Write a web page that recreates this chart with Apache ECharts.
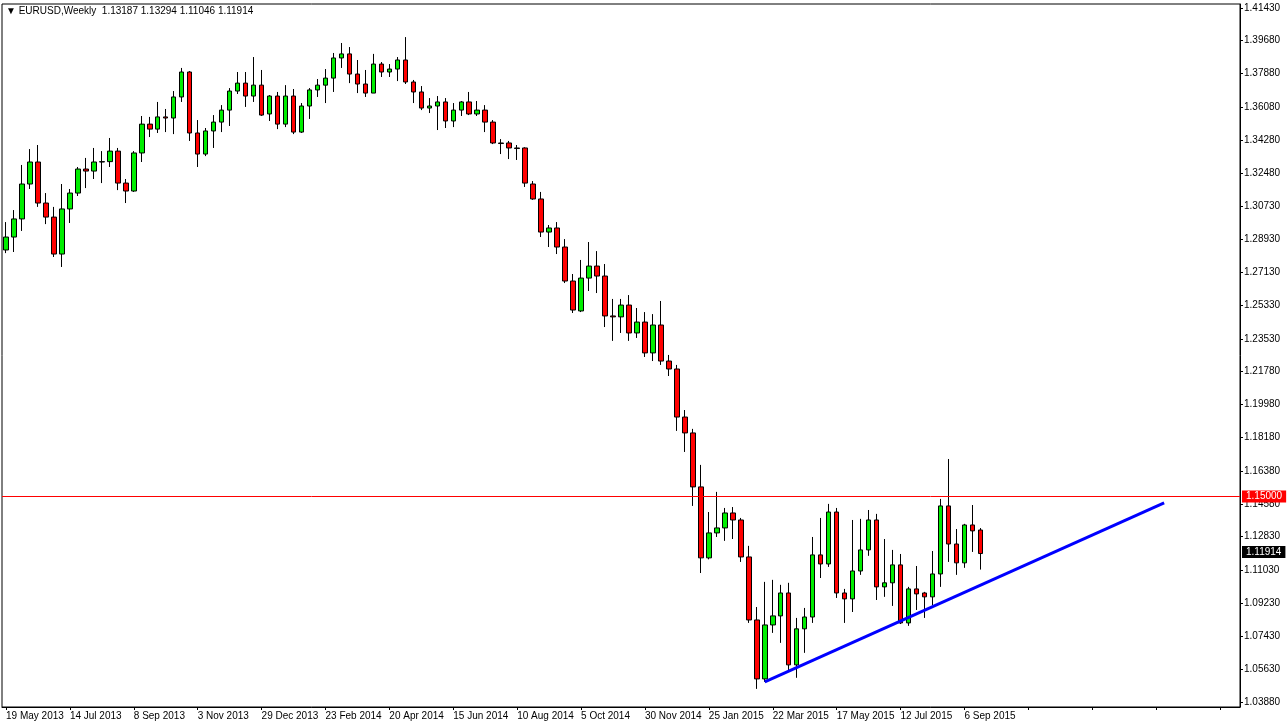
<!DOCTYPE html>
<html>
<head>
<meta charset="utf-8">
<script src="https://cdn.jsdelivr.net/npm/echarts@6/dist/echarts.min.js"></script>
<style>
html,body{margin:0;padding:0;background:#fff;}
#chart{width:1288px;height:726px;}
</style>
</head>
<body>
<div id="chart"></div>
<script>
// weekly EURUSD, first bar = week of 19 May 2013
var startDate = [2013, 4, 19];
var emptyWeeks = 32;

var opens = [1.2834,1.2904,1.3002,1.3191,1.3310,1.3088,1.3012,1.2812,1.3056,1.3142,
	1.3272,1.3261,1.3310,1.3312,1.3369,1.3196,1.3153,1.3359,1.3515,1.3488,
	1.3554,1.3548,1.3662,1.3797,1.3467,1.3353,1.3478,1.3526,1.3591,1.3694,
	1.3737,1.3667,1.3726,1.3570,1.3667,1.3515,1.3667,1.3472,1.3613,1.3700,
	1.3726,1.3764,1.3873,1.3895,1.3786,1.3732,1.3683,1.3840,1.3797,1.3813,
	1.3862,1.3743,1.3689,1.3602,1.3613,1.3635,1.3532,1.3591,1.3635,1.3570,
	1.3591,1.3526,1.3413,1.3413,1.3386,1.3386,1.3191,1.3110,1.2931,1.2953,
	1.2850,1.2666,1.2504,1.2682,1.2747,1.2693,1.2477,1.2472,1.2536,1.2385,
	1.2444,1.2277,1.2428,1.2233,1.2190,1.1930,1.1844,1.1552,1.1168,1.1303,
	1.1330,1.1411,1.1373,1.1173,1.0832,1.0513,1.0805,1.0854,1.0978,1.0589,
	1.0784,1.0848,1.1184,1.1135,1.1416,1.0978,1.0946,1.1097,1.1211,1.1373,
	1.1011,1.1033,1.1130,1.0816,1.1000,1.0978,1.0957,1.1081,1.1449,1.1243,
	1.1141,1.1346,1.13187];
var closes = [1.2904,1.3002,1.3191,1.3310,1.3088,1.3012,1.2812,1.3056,1.3142,1.3272,
	1.3261,1.3310,1.3312,1.3369,1.3196,1.3153,1.3359,1.3515,1.3488,1.3554,
	1.3548,1.3662,1.3797,1.3467,1.3353,1.3478,1.3526,1.3591,1.3694,1.3737,
	1.3667,1.3726,1.3564,1.3667,1.3515,1.3667,1.3472,1.3613,1.3700,1.3726,
	1.3764,1.3873,1.3895,1.3786,1.3732,1.3683,1.3840,1.3797,1.3813,1.3862,
	1.3743,1.3689,1.3602,1.3613,1.3635,1.3532,1.3591,1.3635,1.3570,1.3591,
	1.3526,1.3413,1.3410,1.3386,1.3383,1.3196,1.3110,1.2931,1.2953,1.2850,
	1.2666,1.2509,1.2682,1.2747,1.2693,1.2477,1.2472,1.2536,1.2385,1.2444,
	1.2277,1.2428,1.2233,1.2190,1.1930,1.1844,1.1552,1.1168,1.1303,1.1330,
	1.1411,1.1373,1.1173,1.0832,1.0513,1.0805,1.0854,1.0978,1.0589,1.0784,
	1.0848,1.1184,1.1135,1.1416,1.0978,1.0946,1.1097,1.1211,1.1373,1.1011,
	1.1033,1.1130,1.0816,1.1000,1.0973,1.0957,1.1081,1.1449,1.1243,1.1141,
	1.1346,1.1314,1.11914];
var lows = [1.2817,1.2823,1.2937,1.3164,1.3067,1.2974,1.2796,1.2742,1.2980,1.3126,
	1.3169,1.3218,1.3196,1.3283,1.3158,1.3088,1.3148,1.3310,1.3445,1.3467,
	1.3472,1.3461,1.3635,1.3424,1.3283,1.3342,1.3386,1.3472,1.3505,1.3678,
	1.3608,1.3635,1.3559,1.3532,1.3488,1.3499,1.3461,1.3467,1.3543,1.3662,
	1.3629,1.3689,1.3819,1.3737,1.3683,1.3662,1.3683,1.3770,1.3770,1.3748,
	1.3732,1.3629,1.3591,1.3575,1.3483,1.3494,1.3499,1.3559,1.3564,1.3559,
	1.3472,1.3407,1.3353,1.3326,1.3321,1.3175,1.3105,1.2904,1.2850,1.2812,
	1.2655,1.2493,1.2498,1.2612,1.2601,1.2417,1.2342,1.2385,1.2342,1.2358,
	1.2255,1.2233,1.2212,1.2152,1.1855,1.1741,1.1449,1.1086,1.1160,1.1281,
	1.1260,1.1270,1.1146,1.0816,1.0459,1.0497,1.0762,1.0708,1.0551,1.0519,
	1.0654,1.0816,1.1059,1.1119,1.0951,1.0816,1.0875,1.1076,1.1179,1.0940,
	1.0957,1.0908,1.0810,1.0800,1.0886,1.0843,1.0913,1.1011,1.1146,1.1076,
	1.1114,1.1200,1.11046];
var highs = [1.2985,1.3050,1.3294,1.3380,1.3402,1.3142,1.3067,1.3191,1.3164,1.3283,
	1.3332,1.3386,1.3369,1.3440,1.3386,1.3218,1.3369,1.3559,1.3554,1.3635,
	1.3597,1.3694,1.3819,1.3802,1.3537,1.3494,1.3564,1.3618,1.3710,1.3797,
	1.3797,1.3878,1.3808,1.3672,1.3689,1.3726,1.3705,1.3629,1.3710,1.3759,
	1.3813,1.3900,1.3954,1.3932,1.3862,1.3808,1.3895,1.3851,1.3840,1.3878,
	1.3986,1.3754,1.3721,1.3656,1.3667,1.3656,1.3629,1.3640,1.3689,1.3640,
	1.3618,1.3537,1.3434,1.3424,1.3402,1.3390,1.3207,1.3148,1.2969,1.2985,
	1.2893,1.2704,1.2780,1.2877,1.2828,1.2758,1.2569,1.2569,1.2590,1.2520,
	1.2498,1.2487,1.2558,1.2266,1.2212,1.1968,1.1866,1.1671,1.1416,1.1525,
	1.1438,1.1443,1.1384,1.1233,1.0902,1.1038,1.1049,1.1022,1.1033,1.0843,
	1.0897,1.1281,1.1384,1.1460,1.1438,1.1000,1.1373,1.1379,1.1427,1.1406,
	1.1270,1.1211,1.1189,1.1011,1.1124,1.0984,1.1205,1.1487,1.1703,1.1324,
	1.1352,1.1454,1.13294];

var priceTicks = [1.41430,1.39680,1.37880,1.36080,1.34280,1.32480,1.30730,1.28930,1.27130,1.25330,
	1.23530,1.21780,1.19980,1.18180,1.16380,1.14580,1.12830,1.11030,1.09230,1.07430,
	1.05630,1.03880];
var levelLine = 1.15000;
var lastPrice = 1.11914;
var trendStart = [95, 1.0497];
var trendEnd = [145, 1.1465];

var months = ['Jan','Feb','Mar','Apr','May','Jun','Jul','Aug','Sep','Oct','Nov','Dec'];
var dates = [];
for (var i = 0; i < opens.length + emptyWeeks; i++) {
	var d = new Date(startDate[0], startDate[1], startDate[2] + i * 7);
	dates.push(d.getDate() + ' ' + months[d.getMonth()] + ' ' + d.getFullYear());
}
var ohlc = [];
for (var k = 0; k < opens.length; k++) {
	ohlc.push([opens[k], closes[k], lows[k], highs[k]]);
}

var chart = echarts.init(document.getElementById('chart'));
var font = 'Liberation Sans';
chart.setOption({
	animation: false,
	backgroundColor: '#fff',
	textStyle: {fontFamily: font},
	graphic: [{
		type: 'text', left: 6, top: 6,
		style: {text: '\u25BC EURUSD,Weekly  1.13187 1.13294 1.11046 1.11914', fontSize: 10, fill: '#000', fontFamily: font}
	}],
	grid: {left: 2, right: 48, top: 4, bottom: 19, show: true, borderColor: '#000', borderWidth: 1},
	xAxis: {
		type: 'category',
		data: dates,
		boundaryGap: true,
		axisLine: {lineStyle: {color: '#000'}},
		axisTick: {show: true, length: 3, interval: 7, lineStyle: {color: '#000'}, alignWithLabel: true},
		axisLabel: {
			interval: function (idx) { return idx % 8 === 0 && idx < opens.length; },
			align: 'left', margin: 4, fontSize: 10, color: '#000'
		},
		splitLine: {show: false}
	},
	yAxis: {
		type: 'value',
		position: 'right',
		min: 1.0361,
		max: 1.4165,
		axisLine: {show: true, lineStyle: {color: '#000'}},
		axisTick: {show: true, length: 3, customValues: priceTicks, lineStyle: {color: '#000'}},
		axisLabel: {
			customValues: priceTicks,
			formatter: function (v) { return v.toFixed(5); },
			fontSize: 10, color: '#000', margin: 4
		},
		splitLine: {show: false}
	},
	series: [{
		type: 'candlestick',
		data: ohlc,
		barWidth: 5,
		itemStyle: {
			color: '#00ee00', color0: '#ff0000',
			borderColor: '#000', borderColor0: '#000', borderWidth: 1
		},
		markLine: {
			symbol: 'none',
			silent: true,
			data: [
				{yAxis: levelLine, lineStyle: {color: '#ff0000', width: 1, type: 'solid'},
					label: {position: 'end', formatter: levelLine.toFixed(5), color: '#fff', backgroundColor: '#ff0000', padding: [1, 4], fontSize: 10, distance: 2}},
				{yAxis: lastPrice, lineStyle: {color: 'rgba(0,0,0,0)', width: 1},
					label: {show: true, position: 'end', formatter: lastPrice.toFixed(5), color: '#fff', backgroundColor: '#000', padding: [1, 4], fontSize: 10, distance: 2}},
				[{coord: trendStart, lineStyle: {color: '#0000ff', width: 3, type: 'solid'}, label: {show: false}},
					{coord: trendEnd}]
			]
		}
	}]
});
</script>
</body>
</html>
